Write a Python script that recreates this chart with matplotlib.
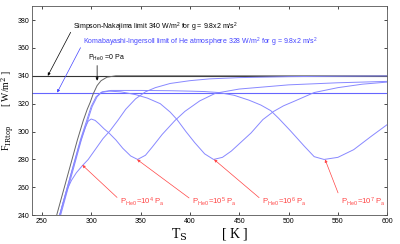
import matplotlib
matplotlib.use('Agg')
import matplotlib.pyplot as plt

plt.rcParams['font.family'] = ['Liberation Sans', 'DejaVu Sans']
plt.rcParams['mathtext.fontset'] = 'custom'
plt.rcParams['mathtext.rm'] = 'Liberation Sans'
plt.rcParams['mathtext.it'] = 'Liberation Sans'

# Simpson-Nakajima curve (P_He0 = 0 Pa)
T_sn = [265, 272, 279, 286, 292, 296, 299, 302, 306, 310, 316, 325, 350, 600]
F_sn = [240, 258, 276, 294, 308, 316, 321, 327, 333, 336.5, 339, 340, 340, 340]

# P_He0 = 1e4 Pa
T_p4 = [268, 272, 276, 280, 285, 291, 297, 305, 312, 319, 327, 335, 345, 355,
        365, 380, 400, 420, 450, 500, 550, 600]
F_p4 = [240, 250, 259, 265, 270.5, 275.5, 280, 288, 295, 300.5, 308, 316, 323.5,
        328.5, 331.5, 334.5, 336.5, 337.8, 338.7, 339.4, 339.7, 339.9]

# P_He0 = 1e5 Pa
T_p5 = [268, 275, 282, 287, 291, 294, 297, 300, 304, 308, 313, 318, 325, 332,
        340, 347, 355, 362, 372, 385, 395, 410, 426, 450, 500, 550, 600]
F_p5 = [240, 258, 275.5, 288, 297, 303, 307.5, 309, 308, 305.5, 302, 299, 294,
        288, 282.5, 280, 283, 289, 298, 308, 314.5, 322, 327.5, 330.5, 333.5, 335, 336]

# P_He0 = 1e6 Pa
T_p6 = [268, 275, 282, 289, 295, 300, 305, 310, 318, 330, 345, 357, 370, 380,
        387, 396, 405, 415, 424, 433, 442, 452, 462, 474, 485, 495, 505, 526,
        550, 575, 600]
F_p6 = [240, 258, 276, 294, 307, 318, 325, 328, 329, 328.5, 326.5, 324, 320,
        314, 308.6, 300, 292, 284, 280, 281.5, 286, 292.5, 299, 308.6, 314.5,
        318.5, 321.5, 328, 331.5, 334, 335.5]

# P_He0 = 1e7 Pa
T_p7 = [269, 276, 283, 290, 296, 301, 306, 311, 320, 350, 380, 400, 415, 429,
        445, 460, 472, 482, 490, 502, 516, 526, 536, 550, 566, 584, 600]
F_p7 = [240, 258, 276, 294, 307, 318, 325, 328.5, 329.5, 329.5, 329.3, 329,
        328.7, 328, 326, 322.5, 319, 315, 309.5, 300.5, 289.5, 282, 280, 281.5,
        287, 296.7, 305]

sn_limit = 340
ki_limit = 328

blue = '#8888ff'
red = '#ff4444'

fig = plt.figure(figsize=(4, 2.44), dpi=100)
ax = fig.add_axes([0.08, 0.118, 0.888, 0.857])

ax.axhline(sn_limit, color='#333333', lw=0.8)
ax.axhline(ki_limit, color='#6666ff', lw=0.8)
ax.plot(T_sn, F_sn, color='#666666', lw=0.7)
for T, F in [(T_p4, F_p4), (T_p5, F_p5), (T_p6, F_p6), (T_p7, F_p7)]:
    ax.plot(T, F, color=blue, lw=0.7)

ax.set_xlim(240, 600)
ax.set_ylim(240, 390)
ax.set_xticks(range(250, 601, 50))
ax.set_yticks(range(240, 381, 20))
ax.tick_params(direction='in', top=True, right=True, labelsize=5, length=2,
               width=0.5, pad=2)
for s in ax.spines.values():
    s.set_linewidth(0.6)
    s.set_color('#555555')

ax.set_xlabel('T$_{\\rm S}$          [ K ]', family='Liberation Serif', fontsize=10,
              labelpad=1, math_fontfamily='dejavuserif')
ax.set_ylabel('F$_{\\rm IRtop}$        [ W/m$^2$ ]', family='Liberation Serif',
              fontsize=7, labelpad=1, math_fontfamily='dejavuserif')
ax.yaxis.set_label_coords(-0.045, 0.5)

arrow = dict(arrowstyle='-|>', lw=0.5, mutation_scale=4, shrinkA=0, shrinkB=0)

ax.annotate('Simpson-Nakajima limit 340 W/m$^2$ for g = 9.8x2 m/s$^2$',
            xy=(256, 340), xytext=(282, 375), fontsize=5, color='black',
            va='center', ha='left',
            arrowprops=dict(arrow, color='black', relpos=(0, 0.5)))
ax.annotate('Komabayashi-Ingersoll limit of He atmosphere 328 W/m$^2$ for g = 9.8x2 m/s$^2$',
            xy=(265.5, 328), xytext=(292, 364), fontsize=5, color='#4444ff',
            va='center', ha='left',
            arrowprops=dict(arrow, color='#4444ff', relpos=(0, 0.5)))
ax.annotate('P$_{He\\,0}$ =0 Pa', xy=(306, 336.5), xytext=(297, 353),
            fontsize=5, color='black', va='center', ha='left',
            arrowprops=dict(arrow, color='black', relpos=(0.24, 0)))

labels = ['P$_{He\\,0}$=10$^4$ P$_a$', 'P$_{He\\,0}$=10$^5$ P$_a$',
          'P$_{He\\,0}$=10$^6$ P$_a$', 'P$_{He\\,0}$=10$^7$ P$_a$']
tips = [(291, 276), (346.5, 280), (424.5, 280), (537, 280)]
text_x = [329, 402, 473, 553]
for lab, tip, tx in zip(labels, tips, text_x):
    ax.annotate(lab, xy=tip, xytext=(tx, 250), fontsize=5.6, color=red,
                va='center', ha='left',
                arrowprops=dict(arrow, color=red, relpos=(0, 0.6)))

fig.savefig('out.png', dpi=100)
